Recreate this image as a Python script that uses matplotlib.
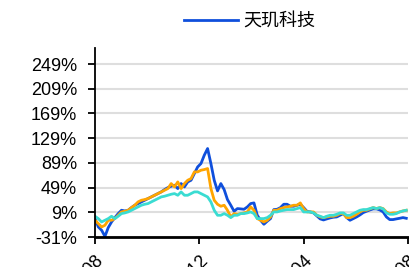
import numpy as np
import pandas as pd
import matplotlib
matplotlib.use("Agg")
import matplotlib.pyplot as plt
import matplotlib.dates as mdates
from matplotlib.ticker import FixedLocator, FuncFormatter

plt.rcParams['font.family'] = ['Liberation Sans', 'Noto Sans CJK SC', 'DejaVu Sans']

# cumulative returns, %
blue = [-1.2, -14.7, -20.1, -30.0, -15.8, -6.6, 0.4, 6.9, 12.3, 11.2,
        12.3, 16.6, 20.4, 23.1, 25.8, 28.5, 31.2, 33.9, 36.6, 39.3,
        42.0, 45.8, 49.0, 51.2, 52.8, 47.4, 55.5, 50.1, 58.2, 60.9,
        71.7, 82.5, 87.9, 101.4, 112.2, 87.9, 60.9, 43.6, 55.5, 45.8,
        29.6, 20.4, 10.7, 15.0, 14.5, 13.9, 17.7, 23.1, 24.2, 4.2,
        -3.9, -10.4, -5.5, -1.2, 13.4, 13.9, 16.6, 22.0, 22.0, 18.8,
        18.8, 20.4, 22.0, 16.6, 10.7, 9.6, 8.0, 3.1, -1.7, -3.4,
        -1.7, -0.1, 1.0, 1.5, 4.2, 6.9, 0.4, -3.9, -1.2, 1.5,
        4.7, 8.5, 10.7, 12.8, 14.5, 14.5, 12.8, 9.6, 1.5, -2.8,
        -2.8, -1.7, -0.7, 0.4, -0.7]
orange = [-3.9, -9.3, -14.7, -12.0, -3.9, -3.9, -1.2, 4.2, 9.6, 10.7,
          12.3, 16.6, 20.4, 25.8, 28.5, 29.6, 31.2, 33.9, 36.6, 39.3,
          42.0, 44.7, 47.4, 55.5, 50.1, 58.2, 47.4, 55.5, 60.9, 63.6,
          74.4, 74.4, 77.1, 78.2, 79.8, 47.4, 28.5, 22.0, 18.8, 20.4,
          12.3, 1.5, 6.9, 5.8, 6.9, 8.0, 9.6, 17.7, 12.3, -1.2,
          -3.9, -6.6, -3.9, 1.5, 12.3, 12.3, 15.0, 16.6, 17.7, 18.8,
          20.4, 20.4, 24.2, 15.0, 9.6, 9.6, 9.6, 4.2, 1.5, 0.4,
          1.5, 2.6, 2.6, 4.2, 6.9, 6.9, 0.4, 0.4, 2.6, 5.8,
          9.6, 12.3, 12.3, 14.5, 16.6, 15.0, 16.6, 15.0, 9.6, 6.9,
          8.0, 8.0, 9.6, 11.2, 12.3]
cyan = [2.6, -1.2, -6.6, -3.9, -1.2, 2.6, -1.2, 2.6, 6.9, 8.0,
        9.6, 12.3, 15.0, 17.7, 20.4, 22.0, 23.1, 25.8, 28.5, 31.2,
        33.9, 35.0, 36.6, 38.2, 39.3, 36.6, 42.0, 36.6, 36.6, 39.3,
        42.0, 42.0, 39.3, 36.6, 33.9, 25.8, 12.3, 4.2, 4.2, 6.9,
        4.2, 0.4, 4.2, 4.2, 6.9, 6.9, 8.0, 9.6, 6.9, -1.2,
        -1.2, -1.2, 0.4, 4.2, 9.6, 9.6, 11.2, 12.3, 13.4, 13.4,
        13.4, 15.0, 16.6, 9.6, 9.6, 9.6, 8.0, 4.2, 2.6, 0.4,
        2.6, 4.2, 4.2, 5.8, 8.0, 8.0, 4.2, 4.2, 6.9, 9.6,
        12.3, 13.4, 13.4, 15.0, 16.6, 15.0, 16.6, 14.5, 8.0, 5.8,
        5.8, 6.9, 9.6, 11.2, 12.3]

dates = pd.date_range('2023-08-01', '2024-07-30', periods=len(blue))
yticks = [-31, 9, 49, 89, 129, 169, 209, 249]
xticks = ['2023-08-01', '2023-12-01', '2024-04-01', '2024-08-01']

fig = plt.figure(figsize=(4.09, 2.67), dpi=100)
ax = fig.add_axes([95 / 409, 30 / 267, 313 / 409, 189 / 267])

l1, = ax.plot(dates, blue, color='#0F4FDC', lw=2, label='天玑科技')
ax.plot(dates, orange, color='#FFA500', lw=2)
ax.plot(dates, cyan, color='#3ADCD2', lw=2)

ax.set_xlim(pd.Timestamp('2023-08-01'), pd.Timestamp('2024-08-01'))
ax.set_ylim(-31, 275)
ax.yaxis.set_major_locator(FixedLocator(yticks))
ax.yaxis.set_major_formatter(FuncFormatter(lambda v, p: '%d%%' % v))
ax.set_xticks(pd.to_datetime(xticks))
ax.xaxis.set_major_formatter(mdates.DateFormatter('%Y-%m'))
for lab in ax.get_xticklabels():
    lab.set_rotation(45)
    lab.set_ha('right')
    lab.set_rotation_mode('anchor')

ax.grid(axis='y', color='#dedede', lw=1.5)
ax.set_axisbelow(True)
for s in ['top', 'right']:
    ax.spines[s].set_visible(False)
ax.spines['left'].set_linewidth(1.3)
ax.spines['bottom'].set_linewidth(2)
ax.tick_params(axis='y', labelsize=13, length=5, width=1.3, pad=8)
ax.tick_params(axis='x', labelsize=13, length=5, width=1.3, pad=6)

fig.legend(handles=[l1], loc='center', bbox_to_anchor=(0.61, 0.918),
           frameon=False, fontsize=13, handlelength=3, handletextpad=0.3)

fig.savefig('out.png', dpi=100)
